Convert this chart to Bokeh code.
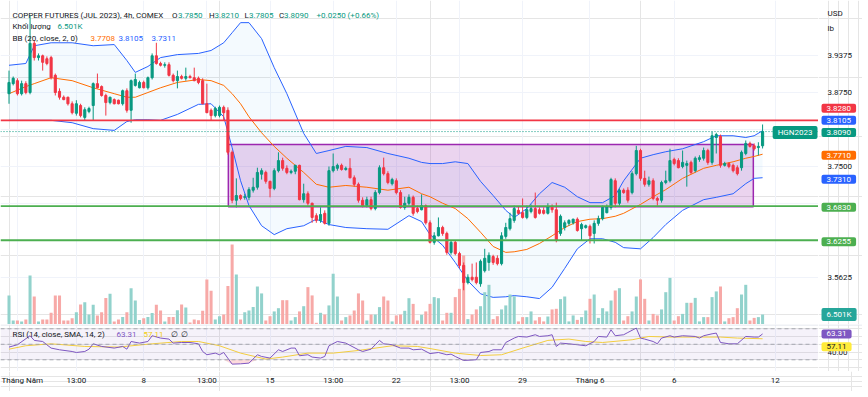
import numpy as np
from bokeh.plotting import figure
from bokeh.models import (Range1d, FixedTicker, Label, Span, Grid, BoxAnnotation, ColumnDataSource)
from bokeh.layouts import column, row
from bokeh.embed import file_html
from bokeh.resources import INLINE

# ------------------------------------------------------------------ data
opens = [
    3.873, 3.890, 3.895, 3.873, 3.890, 3.875, 3.958, 3.934, 3.937, 3.932,
    3.934, 3.904, 3.877, 3.867, 3.867, 3.856, 3.840, 3.853, 3.833, 3.843,
    3.853, 3.890, 3.885, 3.870, 3.858, 3.863, 3.862, 3.856, 3.878, 3.845,
    3.887, 3.883, 3.892, 3.883, 3.900, 3.937, 3.924, 3.921, 3.922, 3.904,
    3.895, 3.902, 3.899, 3.902, 3.900, 3.899, 3.895, 3.856, 3.845, 3.836,
    3.836, 3.850, 3.845, 3.774, 3.693, 3.701, 3.698, 3.698, 3.710, 3.715,
    3.737, 3.740, 3.725, 3.713, 3.743, 3.760, 3.747, 3.740, 3.742, 3.752,
    3.694, 3.704, 3.688, 3.667, 3.659, 3.671, 3.654, 3.743, 3.747, 3.752,
    3.745, 3.747, 3.731, 3.720, 3.693, 3.684, 3.694, 3.679, 3.706, 3.748,
    3.738, 3.721, 3.726, 3.706, 3.681, 3.688, 3.698, 3.679, 3.677, 3.684,
    3.655, 3.622, 3.633, 3.647, 3.637, 3.605, 3.622, 3.603, 3.583, 3.554,
    3.563, 3.563, 3.552, 3.574, 3.588, 3.598, 3.595, 3.586, 3.632, 3.645,
    3.659, 3.676, 3.672, 3.664, 3.674, 3.679, 3.677, 3.676, 3.671, 3.681,
    3.677, 3.637, 3.647, 3.654, 3.655, 3.661, 3.645, 3.647, 3.649, 3.637,
    3.654, 3.662, 3.672, 3.681, 3.726, 3.688, 3.710, 3.710, 3.706, 3.738,
    3.777, 3.730, 3.720, 3.726, 3.696, 3.693, 3.723, 3.726, 3.762, 3.760,
    3.750, 3.752, 3.757, 3.743, 3.762, 3.764, 3.777, 3.757, 3.799, 3.801,
    3.752, 3.755, 3.752, 3.748, 3.748, 3.772, 3.789, 3.785, 3.782, 3.785,
]
highs = [
    3.912, 3.902, 3.899, 3.895, 3.894, 4.005, 3.963, 3.941, 3.939, 3.936,
    3.937, 3.907, 3.882, 3.870, 3.868, 3.860, 3.862, 3.856, 3.850, 3.851,
    3.892, 3.907, 3.887, 3.873, 3.868, 3.865, 3.863, 3.880, 3.882, 3.897,
    3.907, 3.895, 3.895, 3.902, 3.941, 3.959, 3.927, 3.926, 3.926, 3.907,
    3.912, 3.905, 3.917, 3.905, 3.917, 3.902, 3.899, 3.890, 3.848, 3.851,
    3.853, 3.853, 3.850, 3.777, 3.730, 3.703, 3.704, 3.715, 3.731, 3.748,
    3.747, 3.743, 3.726, 3.747, 3.774, 3.765, 3.752, 3.745, 3.753, 3.753,
    3.721, 3.708, 3.689, 3.671, 3.681, 3.676, 3.750, 3.772, 3.755, 3.755,
    3.750, 3.764, 3.735, 3.723, 3.698, 3.699, 3.699, 3.710, 3.752, 3.765,
    3.742, 3.731, 3.730, 3.710, 3.699, 3.703, 3.701, 3.684, 3.703, 3.686,
    3.659, 3.639, 3.664, 3.650, 3.640, 3.625, 3.625, 3.606, 3.588, 3.568,
    3.586, 3.588, 3.593, 3.611, 3.605, 3.601, 3.600, 3.639, 3.655, 3.672,
    3.684, 3.682, 3.696, 3.684, 3.686, 3.706, 3.681, 3.681, 3.688, 3.686,
    3.689, 3.669, 3.659, 3.661, 3.662, 3.664, 3.655, 3.652, 3.652, 3.659,
    3.667, 3.684, 3.686, 3.731, 3.730, 3.713, 3.713, 3.715, 3.742, 3.785,
    3.780, 3.743, 3.733, 3.730, 3.699, 3.726, 3.743, 3.780, 3.765, 3.764,
    3.777, 3.760, 3.760, 3.767, 3.769, 3.782, 3.780, 3.809, 3.807, 3.804,
    3.758, 3.757, 3.755, 3.752, 3.777, 3.794, 3.792, 3.789, 3.791, 3.821,
]
lows = [
    3.856, 3.887, 3.870, 3.870, 3.872, 3.872, 3.929, 3.929, 3.912, 3.921,
    3.897, 3.870, 3.863, 3.862, 3.853, 3.838, 3.836, 3.833, 3.828, 3.840,
    3.828, 3.882, 3.868, 3.836, 3.855, 3.855, 3.855, 3.853, 3.841, 3.824,
    3.885, 3.882, 3.882, 3.880, 3.897, 3.922, 3.919, 3.917, 3.902, 3.892,
    3.882, 3.897, 3.895, 3.899, 3.894, 3.889, 3.855, 3.840, 3.828, 3.833,
    3.833, 3.828, 3.770, 3.688, 3.681, 3.693, 3.694, 3.693, 3.706, 3.711,
    3.728, 3.721, 3.698, 3.710, 3.740, 3.743, 3.737, 3.737, 3.737, 3.693,
    3.689, 3.684, 3.655, 3.655, 3.655, 3.652, 3.650, 3.740, 3.743, 3.743,
    3.743, 3.730, 3.716, 3.689, 3.681, 3.681, 3.676, 3.676, 3.703, 3.735,
    3.720, 3.718, 3.703, 3.679, 3.677, 3.684, 3.667, 3.671, 3.676, 3.652,
    3.620, 3.618, 3.632, 3.633, 3.601, 3.601, 3.600, 3.578, 3.541, 3.551,
    3.556, 3.551, 3.547, 3.571, 3.574, 3.584, 3.583, 3.583, 3.628, 3.642,
    3.655, 3.669, 3.662, 3.661, 3.671, 3.662, 3.669, 3.669, 3.669, 3.672,
    3.622, 3.633, 3.642, 3.650, 3.652, 3.640, 3.625, 3.645, 3.620, 3.620,
    3.650, 3.659, 3.671, 3.677, 3.681, 3.684, 3.704, 3.689, 3.703, 3.735,
    3.726, 3.716, 3.716, 3.693, 3.684, 3.689, 3.720, 3.723, 3.752, 3.747,
    3.747, 3.716, 3.737, 3.740, 3.758, 3.760, 3.753, 3.753, 3.772, 3.748,
    3.750, 3.747, 3.740, 3.735, 3.743, 3.769, 3.782, 3.777, 3.769, 3.7805,
]
closes = [
    3.892, 3.899, 3.873, 3.890, 3.875, 3.958, 3.934, 3.937, 3.926, 3.924,
    3.900, 3.875, 3.867, 3.863, 3.856, 3.841, 3.856, 3.836, 3.846, 3.848,
    3.890, 3.883, 3.870, 3.858, 3.867, 3.856, 3.856, 3.878, 3.845, 3.895,
    3.897, 3.892, 3.883, 3.900, 3.937, 3.924, 3.921, 3.922, 3.904, 3.895,
    3.902, 3.899, 3.902, 3.900, 3.895, 3.892, 3.856, 3.841, 3.836, 3.848,
    3.850, 3.841, 3.774, 3.693, 3.701, 3.696, 3.699, 3.711, 3.715, 3.740,
    3.743, 3.725, 3.713, 3.743, 3.760, 3.747, 3.740, 3.742, 3.752, 3.694,
    3.704, 3.688, 3.664, 3.659, 3.669, 3.654, 3.743, 3.750, 3.752, 3.745,
    3.747, 3.731, 3.720, 3.693, 3.684, 3.694, 3.679, 3.706, 3.748, 3.738,
    3.723, 3.728, 3.706, 3.681, 3.688, 3.698, 3.671, 3.674, 3.684, 3.655,
    3.622, 3.633, 3.647, 3.637, 3.605, 3.622, 3.603, 3.583, 3.554, 3.563,
    3.559, 3.554, 3.590, 3.595, 3.600, 3.588, 3.586, 3.633, 3.647, 3.662,
    3.679, 3.671, 3.664, 3.677, 3.679, 3.664, 3.671, 3.671, 3.682, 3.677,
    3.625, 3.666, 3.655, 3.659, 3.661, 3.642, 3.652, 3.650, 3.633, 3.654,
    3.662, 3.681, 3.682, 3.728, 3.688, 3.710, 3.706, 3.693, 3.738, 3.777,
    3.730, 3.720, 3.726, 3.696, 3.693, 3.723, 3.726, 3.760, 3.755, 3.748,
    3.757, 3.755, 3.740, 3.764, 3.765, 3.777, 3.757, 3.802, 3.804, 3.752,
    3.755, 3.750, 3.743, 3.738, 3.774, 3.789, 3.784, 3.780, 3.784, 3.809,
]
volumes_k = [
    18.9, 2.6, 2.6, 2.0, 3.3, 31.9, 18.2, 2.0, 3.3, 3.3,
    7.6, 18.9, 18.9, 2.6, 2.6, 4.1, 8.0, 13.0, 14.5, 6.5,
    12.8, 5.9, 8.0, 17.3, 20.0, 2.0, 3.3, 4.8, 8.0, 23.6,
    15.6, 3.0, 4.1, 4.8, 7.4, 12.8, 9.1, 2.0, 4.8, 4.8,
    9.3, 13.0, 11.0, 1.3, 3.3, 2.8, 8.9, 29.3, 21.9, 3.3,
    5.4, 6.5, 25.1, 52.0, 32.5, 3.3, 8.0, 9.1, 11.3, 24.7,
    20.2, 2.6, 5.4, 8.5, 10.6, 15.8, 15.8, 2.6, 4.8, 8.5,
    11.9, 24.3, 18.9, 1.1, 7.6, 6.5, 12.4, 33.0, 18.2, 2.6,
    4.8, 5.9, 9.1, 20.2, 15.6, 2.6, 6.5, 6.5, 11.3, 18.2,
    15.6, 2.0, 5.9, 6.5, 8.9, 17.1, 13.4, 2.6, 6.3, 8.5,
    13.4, 17.8, 17.1, 2.6, 7.6, 7.6, 17.8, 23.2, 44.9, 3.5,
    6.5, 9.8, 11.9, 21.0, 25.8, 3.5, 5.4, 9.8, 12.4, 19.5,
    18.4, 2.0, 4.8, 4.8, 8.5, 2.6, 4.8, 2.0, 5.2, 9.8,
    10.2, 16.5, 18.2, 2.0, 5.9, 3.0, 4.8, 9.1, 16.7, 19.5,
    4.3, 10.6, 8.5, 15.6, 22.1, 23.6, 2.6, 5.4, 8.5, 18.2,
    29.3, 16.7, 2.6, 6.9, 5.9, 9.8, 21.0, 30.3, 2.6, 5.4,
    6.9, 14.1, 14.1, 17.3, 2.0, 4.8, 4.8, 17.8, 21.5, 24.7,
    2.0, 4.1, 4.8, 10.6, 19.5, 25.8, 2.6, 4.3, 4.8, 6.501,
]

# Bollinger bands (20, close, 2)
bb_idx = [0, 4, 6, 10, 15, 20, 25, 28, 30, 33, 36, 40, 45, 48, 51, 53, 55, 57, 60, 63,
          66, 70, 73, 76, 80, 85, 90, 95, 98, 100, 103, 106, 109, 112, 115, 118, 120, 123, 126, 129,
          132, 135, 138, 141, 144, 146, 150, 153, 156, 160, 165, 168, 172, 175, 177, 179]
bb_upper = [3.921, 3.924, 3.954, 3.959, 3.959, 3.954, 3.956, 3.929, 3.909, 3.919,
            3.934, 3.939, 3.941, 3.946, 3.959, 3.976, 3.993, 3.993, 3.966, 3.917,
            3.873, 3.806, 3.772, 3.777, 3.784, 3.782, 3.772, 3.764, 3.757, 3.755,
            3.755, 3.758, 3.755, 3.725, 3.701, 3.676, 3.664, 3.679, 3.704, 3.723,
            3.715, 3.699, 3.689, 3.689, 3.701, 3.726, 3.764, 3.770, 3.775, 3.780,
            3.792, 3.802, 3.802, 3.799, 3.802, 3.8105]
bb_mid = [3.873, 3.885, 3.890, 3.900, 3.895, 3.883, 3.873, 3.867, 3.867, 3.875,
          3.883, 3.892, 3.897, 3.895, 3.887, 3.873, 3.856, 3.834, 3.807, 3.784,
          3.764, 3.740, 3.720, 3.715, 3.718, 3.715, 3.710, 3.715, 3.704, 3.699,
          3.688, 3.679, 3.662, 3.639, 3.615, 3.605, 3.606, 3.610, 3.620, 3.633,
          3.647, 3.657, 3.661, 3.662, 3.666, 3.671, 3.686, 3.699, 3.711, 3.730,
          3.747, 3.752, 3.758, 3.764, 3.767, 3.7708]
bb_lower = [3.828, 3.828, 3.828, 3.828, 3.824, 3.814, 3.811, 3.826, 3.829, 3.829,
            3.828, 3.838, 3.855, 3.856, 3.834, 3.782, 3.726, 3.684, 3.650, 3.635,
            3.645, 3.650, 3.661, 3.652, 3.647, 3.645, 3.644, 3.667, 3.657, 3.635,
            3.617, 3.588, 3.557, 3.535, 3.529, 3.530, 3.532, 3.530, 3.527, 3.546,
            3.578, 3.611, 3.628, 3.628, 3.622, 3.613, 3.611, 3.630, 3.652, 3.676,
            3.694, 3.698, 3.704, 3.721, 3.730, 3.7311]

rsi_idx = [0, 2, 5, 6, 8, 10, 12, 15, 16, 18, 19, 20, 22, 25, 27, 28, 29, 31, 33, 34,
           36, 38, 39, 41, 43, 45, 46, 47, 49, 50, 51, 53, 55, 57, 59, 60, 62, 64, 65, 67,
           68, 69, 71, 72, 74, 75, 76, 78, 80, 83, 84, 86, 88, 89, 91, 93, 95, 96, 98, 100,
           102, 104, 105, 106, 108, 111, 112, 114, 115, 117, 118, 120, 121, 123, 125, 126, 128, 129, 130, 131,
           133, 135, 137, 139, 140, 142, 143, 144, 146, 147, 149, 150, 151, 153, 154, 155, 157, 158, 160, 163,
           164, 165, 167, 168, 169, 171, 173, 175, 177, 178, 179]
rsi_val = [46.4, 49.4, 61.0, 55.0, 53.6, 45.1, 42.9, 40.7, 39.4, 40.7, 43.7, 50.6, 47.2, 45.1, 47.2, 43.7, 53.6, 51.5, 53.6, 61.0,
           58.0, 56.7, 51.5, 52.3, 52.3, 50.6, 40.7, 36.5, 38.6, 36.5, 39.4, 24.4, 24.8, 25.7, 36.5, 34.3, 32.2, 42.9, 40.7, 45.1,
           45.1, 35.2, 36.5, 33.5, 32.2, 34.3, 48.1, 53.6, 51.5, 42.9, 40.7, 43.7, 55.0, 50.6, 49.4, 45.1, 45.1, 42.9, 43.7, 38.0,
           39.4, 36.5, 37.3, 34.3, 29.1, 30.0, 39.4, 40.7, 42.9, 42.9, 52.3, 58.0, 60.1, 59.3, 62.3, 60.1, 61.0, 62.3, 47.2, 51.5,
           50.6, 49.4, 48.1, 53.6, 60.1, 59.3, 68.7, 61.0, 62.3, 65.2, 70.9, 58.0, 56.7, 53.6, 50.6, 58.0, 61.0, 59.3, 61.0, 60.1,
           58.0, 61.0, 63.5, 64.4, 52.3, 50.6, 50.6, 60.1, 59.3, 59.3, 63.31]
rsi_ma_idx = [0, 4, 10, 18, 26, 34, 41, 45, 50, 55, 61, 65, 71, 77, 83, 91, 97, 100, 106, 112,
              117, 122, 128, 133, 137, 141, 148, 152, 157, 164, 169, 173, 179]
rsi_ma_val = [43.7, 48.1, 50.6, 47.2, 46.4, 50.6, 53.6, 53.6, 48.1, 38.6, 30.9, 33.5, 38.6, 38.6, 42.0, 48.1, 47.2, 44.5, 38.6, 35.5,
              36.5, 45.1, 55.0, 56.7, 53.6, 52.3, 55.8, 60.1, 59.3, 59.3, 59.3, 58.0, 57.11]

# time axis / price scale
tick_bars = [2, 16, 32, 47, 62, 77, 92, 107, 122, 138, 158, 182]
tick_labels = ["Tháng Năm", "13:00", "8", "13:00", "15", "13:00", "22", "13:00", "29", "Tháng 6", "6", "12"]
price_ticks = [3.5625, 3.75, 3.875, 3.9375]
grid_price_ticks = [3.5625, 3.625, 3.6875, 3.75, 3.8125, 3.875, 3.9375]
rsi_ticks = [40]

# drawn levels / zone
resistance = 3.828
support_1 = 3.683
support_2 = 3.6255
box_start_bar, box_end_bar = 52.1, 176.8
box_top, box_bottom = 3.787, 3.682

# ------------------------------------------------------------------ styling / geometry
UP, DOWN = "#089981", "#f23645"
VUP, VDOWN = "#92d2cc", "#f7a9a7"
TXT = "#131722"
GRID = "#f0f3fa"
SEP = "#e0e3eb"
FONT = "Roboto"
FS = "8px"

BAR_PX = 4.21
MAIN_W, AX_W = 818, 44
MAIN_H, RSI_H, TIME_H = 324, 47, 20
X0 = -8.5 / BAR_PX
X1 = X0 + MAIN_W / BAR_PX
PY1 = 4.0304
PY0 = PY1 - MAIN_H / 592.1
R1 = 75.5
R0 = R1 - RSI_H / 0.7756
PXP = MAIN_H / (PY1 - PY0)
PXR = RSI_H / (R1 - R0)


def sx(px):          # page x -> bar coordinate
    return X0 + px / BAR_PX


def sy(py):          # page y -> price
    return PY1 - py / PXP


def sr(py):          # page y -> RSI value
    return R1 - (py - MAIN_H - 1) / PXR


def lab(fig, x, y, text, color=TXT, bg=None, align="left", x_offset=0, y_range_name=None, size=FS):
    kw = dict(x=x, y=y, text=text, text_color=color, text_font=FONT, text_font_size=size,
              text_align=align, text_baseline="middle", x_offset=x_offset)
    if y_range_name:
        kw["y_range_name"] = y_range_name
    if bg is not None:
        kw.update(background_fill_color=bg, padding=(5, 2), border_radius=2)
    fig.add_layout(Label(**kw))


def fmt_price(v):
    return f"{round(v / 0.0005) * 0.0005:.4f}"


def bare(w, h, xr, yr):
    f = figure(frame_width=w, frame_height=h, x_range=xr, y_range=yr,
               x_axis_location=None, y_axis_location=None,
               output_backend="svg", toolbar_location=None, min_border=0)
    f.outline_line_color = None
    f.background_fill_color = "white"
    f.border_fill_color = "white"
    return f


o = np.array(opens); h = np.array(highs); l = np.array(lows); c = np.array(closes)
N = len(c)
idx = np.arange(N)
up = c >= o
src = ColumnDataSource(dict(
    x=idx, h=h, l=l, top=np.maximum(o, c), bot=np.minimum(o, c),
    col=np.where(up, UP, DOWN), vcol=np.where(up, VUP, VDOWN),
    vol=np.array(volumes_k)))

xr = Range1d(X0, X1)
pyr = Range1d(PY0, PY1)
volr = Range1d(0, MAIN_H * 0.65)
ryr = Range1d(R0, R1)

# ------------------------------------------------------------------ main pane
p = bare(MAIN_W, MAIN_H, xr, pyr)
p.extra_y_ranges = {"vol": volr}
p.add_layout(Grid(dimension=0, ticker=FixedTicker(ticks=tick_bars), grid_line_color=GRID))
p.add_layout(Grid(dimension=1, ticker=FixedTicker(ticks=grid_price_ticks), grid_line_color=GRID))

p.varea(x=bb_idx, y1=bb_lower, y2=bb_upper, fill_color="#2196f3", fill_alpha=0.05)
p.quad(left=box_start_bar, right=box_end_bar, top=box_top, bottom=box_bottom,
       fill_color="#9c27b0", fill_alpha=0.2, line_color="#9c27b0", line_width=1.5)
p.line(bb_idx, bb_upper, line_color="#2962ff", line_width=1)
p.line(bb_idx, bb_lower, line_color="#2962ff", line_width=1)
p.line(bb_idx, bb_mid, line_color="#ff6d00", line_width=1)

p.add_layout(Span(location=resistance, dimension="width", line_color="#f23645", line_width=1.6))
p.add_layout(Span(location=support_1, dimension="width", line_color="#4caf50", line_width=1.8))
p.add_layout(Span(location=support_2, dimension="width", line_color="#4caf50", line_width=1.8))
p.add_layout(Span(location=closes[-1], dimension="width", line_color=UP, line_width=1, line_dash="1 2"))

p.vbar(x="x", width=0.72, top="vol", bottom=0, fill_color="vcol", line_color=None,
       source=src, y_range_name="vol")
p.segment(x0="x", y0="h", x1="x", y1="l", line_color="col", line_width=1, source=src)
p.vbar(x="x", width=0.5, top="top", bottom="bot", fill_color="col", line_color="col",
       line_width=1, source=src)

# legend (top-left)
chg = closes[-1] - closes[-2]
y1 = sy(15)
lab(p, sx(12), y1, "COPPER FUTURES (JUL 2023), 4h, COMEX")
for letter, val, xl, xv in [("O", opens[-1], 171.5, 177.5), ("H", highs[-1], 208.5, 214),
                            ("L", lows[-1], 244, 248.5), ("C", closes[-1], 278.5, 283.5)]:
    lab(p, sx(xl), y1, letter)
    lab(p, sx(xv), y1, f"{val:.4f}", color=UP)
lab(p, sx(316), y1, f"{chg:+.4f} ({chg / closes[-2] * 100:+.2f}%)", color=UP)
y2 = sy(26)
lab(p, sx(12), y2, "Khối lượng")
lab(p, sx(57), y2, f"{volumes_k[-1]:.3f}K", color=UP)
y3 = sy(38)
lab(p, sx(12), y3, "BB (20, close, 2, 0)")
lab(p, sx(90), y3, f"{bb_mid[-1]:.4f}", color="#ff6d00")
lab(p, sx(118), y3, f"{bb_upper[-1]:.4f}", color="#2962ff")
lab(p, sx(151), y3, f"{bb_lower[-1]:.4f}", color="#2962ff")
lab(p, X1, closes[-1] - 1 / PXP, "HGN2023", color="white", bg=UP, align="right", x_offset=-1)

# ------------------------------------------------------------------ price scale
pax = bare(AX_W, MAIN_H, Range1d(0, AX_W), pyr)
pax.extra_y_ranges = {"vol": volr}
lab(pax, 9, sy(13), "USD")
lab(pax, 9, sy(28), "lb")
for t in price_ticks:
    lab(pax, 9, t, f"{t:.4f}")
for val, col, shift_px in [(resistance, "#f23645", 12), (bb_upper[-1], "#2962ff", 10.5),
                           (closes[-1], UP, -1), (bb_mid[-1], "#ff6d00", -1),
                           (bb_lower[-1], "#2962ff", -1.5), (support_1, "#4caf50", -1),
                           (support_2, "#4caf50", -1.5)]:
    lab(pax, 3, val + shift_px / PXP, fmt_price(val), color="white", bg=col)
lab(pax, 3, volumes_k[-1], f"{volumes_k[-1]:.3f}K", color="white", bg="#26a69a", y_range_name="vol")

# ------------------------------------------------------------------ RSI pane
q = bare(MAIN_W, RSI_H, xr, ryr)
q.add_layout(Grid(dimension=0, ticker=FixedTicker(ticks=tick_bars), grid_line_color=GRID))
q.add_layout(BoxAnnotation(bottom=30, top=70, fill_color="#7e57c2", fill_alpha=0.08, line_color=None))
for lvl in (70, 50, 30):
    q.add_layout(Span(location=lvl, dimension="width", line_color="#9598a1",
                      line_width=1, line_dash="4 3", line_alpha=0.8))
rv = np.array(rsi_val)
q.varea(x=rsi_idx, y1=np.minimum(rv, 30), y2=30, fill_color="#f23645", fill_alpha=0.18)
q.varea(x=rsi_idx, y1=70, y2=np.maximum(rv, 70), fill_color=UP, fill_alpha=0.18)
q.line(rsi_ma_idx, rsi_ma_val, line_color="#fdd835", line_width=1)
q.line(rsi_idx, rsi_val, line_color="#7e57c2", line_width=1)

yr = sr(335)
lab(q, sx(12), yr, "RSI (14, close, SMA, 14, 2)")
lab(q, sx(116), yr, f"{rsi_val[-1]:.2f}", color="#7e57c2")
lab(q, sx(143), yr, f"{rsi_ma_val[-1]:.2f}", color="#f2cc0c")
lab(q, sx(170), yr, "∅")
lab(q, sx(180), yr, "∅")

rax = bare(AX_W, RSI_H, Range1d(0, AX_W), ryr)
for t in rsi_ticks:
    lab(rax, 9, t, f"{t:.2f}")
lab(rax, 3, rsi_val[-1], f"{rsi_val[-1]:.2f}", color="white", bg="#7e57c2")
lab(rax, 3, rsi_ma_val[-1] - 8 / PXR, f"{rsi_ma_val[-1]:.2f}", color=TXT, bg="#ffeb3b")
for f in (q, rax):
    f.add_layout(Span(location=R1 - 0.5 / PXR, dimension="width", line_color=SEP, line_width=1))

# ------------------------------------------------------------------ time axis
tw = MAIN_W + AX_W
tfig = bare(tw, TIME_H, Range1d(X0, X0 + tw / BAR_PX), Range1d(0, TIME_H))
for k, (t, s) in enumerate(zip(tick_bars, tick_labels)):
    if k == 0:
        # first label sits at the very left edge: keep it whole, left-aligned
        lab(tfig, sx(1), TIME_H - 9, s, align="left")
    else:
        lab(tfig, t, TIME_H - 9, s, align="center")

layout = column(row(p, pax, spacing=0), row(q, rax, spacing=0), tfig, spacing=0)
open("out.html", "w").write(file_html(layout, INLINE))
